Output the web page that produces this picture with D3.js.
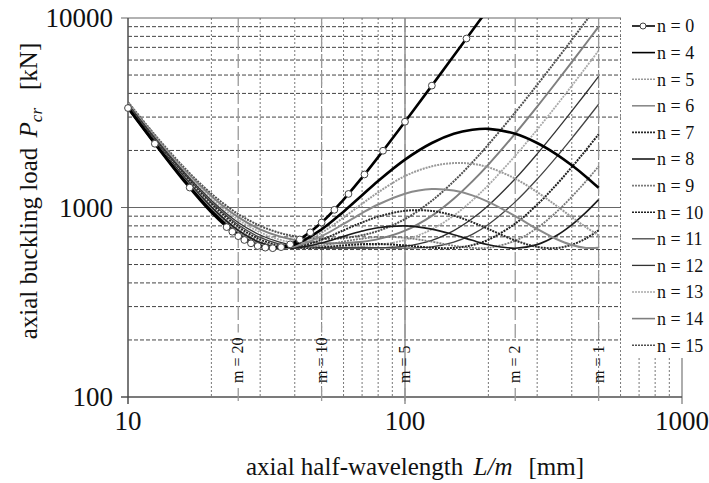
<!DOCTYPE html>
<html>
<head>
<meta charset="utf-8">
<style>
  body { margin: 0; background: #fff; }
  svg text { font-family: "Liberation Serif", "DejaVu Serif", serif; fill: #111; }
</style>
</head>
<body>
<svg class="chart" font-family="Liberation Serif, serif"></svg>
<script src="https://d3js.org/d3.v7.min.js"></script>
<script>
// axial half-wavelength L/m [mm], shared by all n curves
const halfWave = [10, 12.5, 16, 20, 25, 30, 35, 40, 50, 60, 70, 80, 100, 125, 150, 175, 200, 250, 300, 350, 400, 450, 500];

// axial buckling load [kN] per circumferential wave number n
const loadN0  = [3349, 2170, 1369, 942, 706, 621, 614, 656, 833, 1101, 1440, 1844, 2834, 4397, 6316, 8588, 11209];
const loadN4  = [3367, 2187, 1386, 958, 719, 627, 611, 638, 767, 951, 1161, 1381, 1790, 2190, 2450, 2570, 2600, 2450, 2190, 1920, 1670, 1455, 1270];
const loadN5  = [3377, 2197, 1395, 967, 726, 631, 610, 630, 737, 885, 1046, 1202, 1466, 1650, 1715, 1700, 1630, 1420, 1205, 1028, 890, 787, 713];
const loadN6  = [3389, 2209, 1407, 977, 735, 637, 610, 623, 706, 819, 935, 1037, 1183, 1251, 1228, 1159, 1071, 901, 770, 684, 634, 612, 613];
const loadN7  = [3403, 2223, 1421, 990, 745, 644, 612, 616, 676, 758, 834, 895, 961, 959, 906, 837, 770, 670, 620, 611, 636, 686, 758];
const loadN8  = [3420, 2239, 1437, 1005, 758, 653, 615, 612, 650, 704, 751, 782, 800, 769, 718, 671, 636, 610, 637, 707, 810, 942, 1100];
const loadN9  = [3439, 2258, 1455, 1023, 773, 664, 621, 610, 629, 661, 685, 698, 692, 660, 628, 612, 613, 668, 780, 939, 1139, 1376, 1648];
const loadN10 = [3460, 2279, 1476, 1043, 791, 678, 630, 612, 616, 631, 640, 642, 631, 613, 612, 633, 676, 822, 1035, 1307, 1633, 2009, 2434];
const loadN11 = [3483, 2302, 1499, 1065, 811, 695, 642, 619, 610, 614, 615, 614, 610, 619, 656, 722, 814, 1071, 1411, 1828, 2318, 2878, 3507];
const loadN12 = [3509, 2328, 1525, 1090, 834, 716, 658, 631, 613, 611, 611, 612, 625, 671, 755, 874, 1025, 1417, 1917, 2520, 3222, 4020, 4916];
const loadN13 = [3537, 2356, 1553, 1118, 861, 740, 679, 649, 626, 622, 625, 635, 674, 767, 906, 1090, 1314, 1874, 2576, 3414, 4387, 5491, 6728];
const loadN14 = [3567, 2387, 1583, 1148, 890, 767, 706, 674, 650, 649, 660, 681, 755, 904, 1112, 1373, 1685, 2454, 3406, 4539, 5850, 7337, 9002];
const loadN15 = [3600, 2420, 1617, 1182, 923, 800, 737, 705, 684, 690, 714, 752, 869, 1086, 1375, 1731, 2150, 3175, 4436, 5933, 7664, 9626, 11821];

// open markers on the n = 0 curve (at L/m for whole m)
const circleHalfWave = [10, 12.5, 16.7, 22.7, 23.8, 25, 26.3, 27.8, 29.4, 31.3, 33.3, 35.7, 38.5, 41.7, 45.5, 50, 55.6, 62.5, 71.4, 83.3, 100, 125, 166.7];
const circleLoad     = [3349, 2170, 1274, 788, 745, 706, 674, 647, 626, 614, 610, 618, 639, 678, 739, 833, 972, 1179, 1494, 1993, 2834, 4397, 7793];

// half-wave counts m marked with vertical lines (L = 500 mm)
const markM = [20, 10, 5, 2, 1];
const markHalfWave = [25, 50, 100, 250, 500];

const seriesN = [0, 4, 5, 6, 7, 8, 9, 10, 11, 12, 13, 14, 15];
const seriesLoad = [loadN0, loadN4, loadN5, loadN6, loadN7, loadN8, loadN9, loadN10, loadN11, loadN12, loadN13, loadN14, loadN15];

// line styles
const seriesColor = ["#000", "#000", "#9a9a9a", "#8a8a8a", "#2a2a2a", "#1a1a1a", "#7a7a7a", "#202020", "#444", "#333", "#aaa", "#7f7f7f", "#505050"];
const seriesWidth = [2.6, 2.6, 2, 2, 2, 1.6, 1.8, 2, 1.3, 1.3, 1.8, 2, 2];
const seriesDash  = [null, null, "2,1", null, "2,1", null, "2,1", "2,1", null, null, "2,1", null, "2,1"];

let width = 709, height = 483;
let svg = d3.select(".chart").attr("width", width).attr("height", height);

let x = d3.scaleLog().domain([10, 1000]).range([128, 682]);
let y = d3.scaleLog().domain([100, 10000]).range([397, 18]);

function drawGrid() {
    let g = svg.append("g");
    let xt = x.ticks(), yt = y.ticks();
    let isMajor = v => Math.abs(Math.log10(v) - Math.round(Math.log10(v))) < 1e-9;

    g.selectAll(".vgrid").data(xt.filter(v => !isMajor(v))).join("line")
        .attr("x1", d => x(d)).attr("x2", d => x(d))
        .attr("y1", y(10000)).attr("y2", y(100))
        .attr("stroke", "#777").attr("stroke-width", 1).attr("stroke-dasharray", "2,2");
    g.selectAll(".hgrid").data(yt.filter(v => !isMajor(v))).join("line")
        .attr("x1", x(10)).attr("x2", x(1000))
        .attr("y1", d => y(d)).attr("y2", d => y(d))
        .attr("stroke", "#444").attr("stroke-width", 1).attr("stroke-dasharray", "4,2");

    // major lines
    g.selectAll(".vmaj").data(xt.filter(isMajor)).join("line")
        .attr("x1", d => x(d)).attr("x2", d => x(d))
        .attr("y1", y(10000)).attr("y2", y(100) + 7)
        .attr("stroke", "#777").attr("stroke-width", 1.2);
    g.selectAll(".hmaj").data(yt.filter(isMajor)).join("line")
        .attr("x1", x(10) - 7).attr("x2", x(1000))
        .attr("y1", d => y(d)).attr("y2", d => y(d))
        .attr("stroke", "#666").attr("stroke-width", 1.2);

    // axes
    g.append("line").attr("x1", x(10)).attr("x2", x(10)).attr("y1", y(10000)).attr("y2", y(100) + 7)
        .attr("stroke", "#444");
    g.append("line").attr("x1", x(10) - 7).attr("x2", x(1000)).attr("y1", y(100)).attr("y2", y(100))
        .attr("stroke", "#444");

    // m = ... markers, the dashed line stops short of its label
    markHalfWave.forEach((L, i) => {
        let bottom = 383;
        let t = g.append("text")
            .attr("transform", "translate(" + (x(L) + 5) + "," + bottom + ") rotate(-90)")
            .style("font-size", "16px")
            .text("m = " + markM[i]);
        let top = bottom - t.node().getComputedTextLength();
        g.append("line").attr("x1", x(L)).attr("x2", x(L)).attr("y1", y(10000)).attr("y2", top - 5)
            .attr("stroke", "#999").attr("stroke-width", 1.3).attr("stroke-dasharray", "14,4");
        g.append("line").attr("x1", x(L)).attr("x2", x(L)).attr("y1", bottom + 5).attr("y2", y(100) + 4)
            .attr("stroke", "#999").attr("stroke-width", 1.3);
    });

    // tick labels
    svg.selectAll(".ylab").data(yt.filter(isMajor)).join("text")
        .attr("x", 113).attr("y", d => y(d)).attr("dy", "0.35em")
        .attr("text-anchor", "end").style("font-size", "27px")
        .text(d => d);
    svg.selectAll(".xlab").data(xt.filter(isMajor)).join("text")
        .attr("x", d => x(d)).attr("y", 430)
        .attr("text-anchor", "middle").style("font-size", "27px")
        .text(d => d);
}

function drawCurves() {
    svg.append("clipPath").attr("id", "plotClip").append("rect")
        .attr("x", x(10)).attr("y", y(10000)).attr("width", x(1000) - x(10)).attr("height", y(100) - y(10000));

    let line = d3.line()
        .x(d => x(d[0]))
        .y(d => y(d[1]))
        .curve(d3.curveCatmullRom);

    let g = svg.append("g").attr("clip-path", "url(#plotClip)");
    // draw high n first so n = 4 and n = 0 sit on top
    for (let i = seriesN.length - 1; i >= 0; i--) {
        let pts = d3.zip(halfWave.slice(0, seriesLoad[i].length), seriesLoad[i]);
        g.append("path")
            .attr("d", line(pts))
            .attr("fill", "none")
            .attr("stroke", seriesColor[i])
            .attr("stroke-width", seriesWidth[i])
            .attr("stroke-dasharray", seriesDash[i]);
    }

    svg.append("g").selectAll("circle")
        .data(d3.zip(circleHalfWave, circleLoad))
        .join("circle")
        .attr("cx", d => x(d[0])).attr("cy", d => y(d[1]))
        .attr("r", 3.4)
        .attr("fill", "#fff").attr("stroke", "#444").attr("stroke-width", 1);
}

function drawLegend() {
    let g = svg.append("g");
    g.append("rect").attr("x", 621).attr("y", 0).attr("width", 88).attr("height", 358).attr("fill", "#fff");
    seriesN.forEach((n, i) => {
        let yy = 26 + i * 26.6;
        g.append("line").attr("x1", 632).attr("x2", 655).attr("y1", yy).attr("y2", yy)
            .attr("stroke", seriesColor[i])
            .attr("stroke-width", Math.min(seriesWidth[i], 1.6))
            .attr("stroke-dasharray", seriesDash[i]);
        if (n == 0) {
            g.append("circle").attr("cx", 643).attr("cy", yy).attr("r", 3)
                .attr("fill", "#fff").attr("stroke", "#444");
        }
        g.append("text").attr("x", 657).attr("y", yy).attr("dy", "0.35em")
            .style("font-size", "18px")
            .text("n = " + n);
    });
}

function drawTitles() {
    let xt = svg.append("text")
        .attr("x", 415).attr("y", 475)
        .attr("text-anchor", "middle")
        .style("font-size", "25px");
    xt.append("tspan").text("axial half-wavelength ");
    xt.append("tspan").attr("dx", 4).style("font-style", "italic").text("L/m");
    xt.append("tspan").attr("dx", 16).text("[mm]");

    let yt = svg.append("text")
        .attr("transform", "translate(37,191) rotate(-90)")
        .attr("text-anchor", "middle")
        .style("font-size", "25px");
    yt.append("tspan").text("axial buckling load ");
    yt.append("tspan").attr("dx", 4).style("font-style", "italic").text("P");
    yt.append("tspan").attr("dy", 5).style("font-style", "italic").style("font-size", "17px").text("cr");
    yt.append("tspan").attr("dy", -5).attr("dx", 18).text("[kN]");
}

drawGrid();
drawCurves();
drawLegend();
drawTitles();
</script>
</body>
</html>
